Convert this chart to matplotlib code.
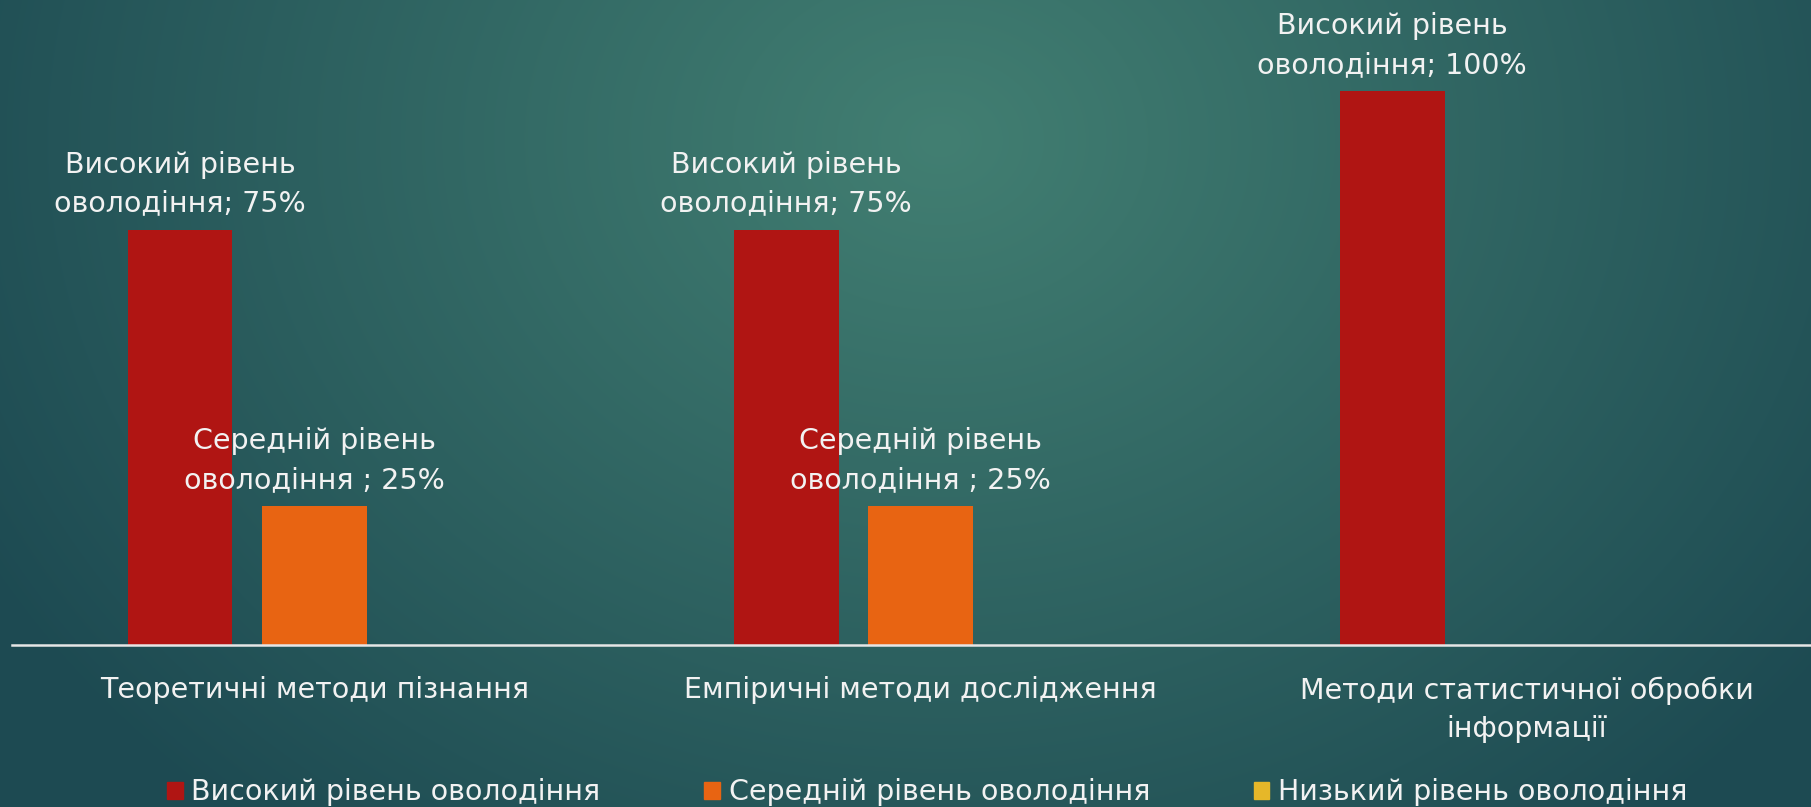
import numpy as np
import matplotlib
matplotlib.use("Agg")
import matplotlib.pyplot as plt
from matplotlib.patches import Patch

# ---- data ----
categories = ["Теоретичні методи пізнання",
              "Емпіричні методи дослідження",
              "Методи статистичної обробки\nінформації"]
series_names = ["Високий рівень оволодіння",
                "Середній рівень оволодіння ",
                "Низький рівень оволодіння"]
high = [75, 75, 100]
mid = [25, 25, 0]
low = [0, 0, 0]

colors = ["#B01513", "#E86412", "#E6B729"]
text_color = "#F2F2F2"
FONT = "DejaVu Sans"

W, H = 1811, 807
fig = plt.figure(figsize=(W / 100, H / 100), dpi=100)

# background radial gradient
bg = fig.add_axes([0, 0, 1, 1], zorder=0)
yy, xx = np.mgrid[0:H, 0:W]
cx, cy = 940, 140
d = np.sqrt(((xx - cx) / 1100.0) ** 2 + ((yy - cy) / 900.0) ** 2)
d = np.clip(d, 0, 1)
c_in = np.array([0x42, 0x7F, 0x72]) / 255
c_out = np.array([0x1D, 0x4A, 0x52]) / 255
img = c_in[None, None, :] * (1 - d[..., None]) + c_out[None, None, :] * d[..., None]
bg.imshow(img, aspect="auto", extent=[0, 1, 0, 1])
bg.axis("off")

left_px, right_px = 11.5, 1830
base_px = 644.5
ax = fig.add_axes([left_px / W, (H - base_px) / H, (right_px - left_px) / W, base_px / H], zorder=1)
ax.patch.set_alpha(0)

x = np.arange(len(categories))
bw = 0.173
pitch = 0.222
values = [high, mid, low]
for i, (vals, name, col) in enumerate(zip(values, series_names, colors)):
    bars = ax.bar(x + (i - 1) * pitch, vals, bw, color=col, label=name.strip())
    labels = [f"{name.split(' оволодіння')[0]}\nоволодіння{name[len(name.rstrip()):]}; {v}%" if v > 0 else ""
              for v in vals]
    ax.bar_label(bars, labels=labels, padding=9, color=text_color, fontsize=20.5,
                 family=FONT, linespacing=1.47, multialignment="center")

ax.set_xlim(-0.5, len(categories) - 0.5)
ax.set_ylim(0, 116.5)
ax.set_yticks([])
ax.set_xticks(x)
ax.set_xticklabels(categories, fontsize=20.5, color=text_color, family=FONT, linespacing=1.47)
ax.tick_params(axis="x", length=0, pad=23)
for s in ["top", "right", "left"]:
    ax.spines[s].set_visible(False)
ax.spines["bottom"].set_color("#E6E6E6")
ax.spines["bottom"].set_linewidth(1.8)

handles = [Patch(color=c) for c in colors]
leg = fig.legend(handles, [n.strip() for n in series_names], loc="center",
                 bbox_to_anchor=(0.512, 0.018), ncol=3, frameon=False,
                 handlelength=0.55, handleheight=0.55, handletextpad=0.3,
                 columnspacing=3.65, prop={"family": FONT, "size": 20.5})
for t in leg.get_texts():
    t.set_color(text_color)

fig.savefig("out.png", dpi=100)
